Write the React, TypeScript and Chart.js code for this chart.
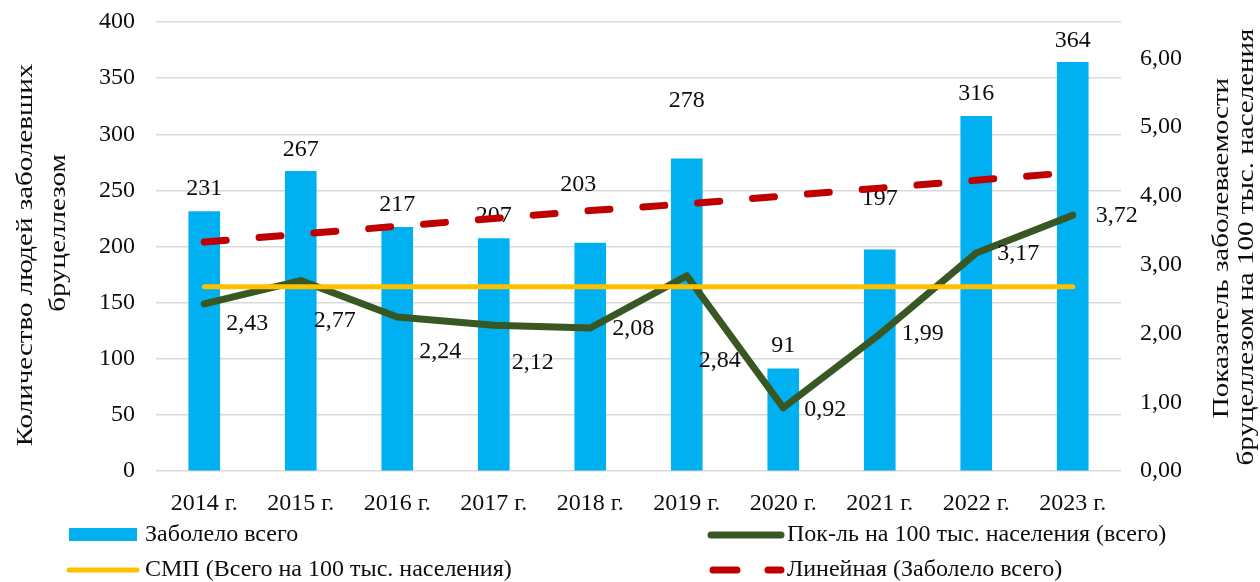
import { useEffect, useRef } from 'react';
import { Chart, registerables } from 'chart.js';

Chart.register(...registerables);

// ---- data ----
const categories = ['2014 г.', '2015 г.', '2016 г.', '2017 г.', '2018 г.', '2019 г.', '2020 г.', '2021 г.', '2022 г.', '2023 г.'];
const casesTotal = [231, 267, 217, 207, 203, 278, 91, 197, 316, 364];
const ratePer100k = [2.43, 2.77, 2.24, 2.12, 2.08, 2.84, 0.92, 1.99, 3.17, 3.72];
const smpLevel = [2.68, 2.68, 2.68, 2.68, 2.68, 2.68, 2.68, 2.68, 2.68, 2.68];
const trendCases = [204, 211, 218, 225, 232, 238, 245, 252, 259, 266];
const leftTicks = [0, 50, 100, 150, 200, 250, 300, 350, 400];
const rightTicks = [0, 1, 2, 3, 4, 5, 6];

const seriesNames = [
  'Заболело всего',
  'Пок-ль на 100 тыс. населения (всего)',
  'СМП (Всего на 100 тыс. населения)',
  'Линейная (Заболело всего)',
];
const leftTitle = ['Количество людей заболевших', 'бруцеллезом'];
const rightTitle = ['Показатель заболеваемости', 'бруцеллезом на 100 тыс. населения'];

// ---- layout tweaks for label placement (pixels) ----
const barLabelShift = [[0, -23], [0, -22], [0, -23], [0, -23], [-12, -58], [0, -58], [0, -23], [0, -51], [0, -23], [0, -22]];
const rateLabelShift = [[43, 20], [34, 40], [43, 35], [39, 37], [43, 1], [33, 85], [42, 2], [43, 0], [42, 1], [44, 0]];

const FONT = "'Liberation Serif', 'Times New Roman', serif";
const FS = 24;
const TITLE_FS = 29;
const TEXT = '#0d0d0d';
const BLUE = '#00B0F0';
const GREEN = '#385723';
const YELLOW = '#FFC000';
const RED = '#C00000';

const fmt = (v: number) => v.toFixed(2).replace('.', ',');

const overlay = {
  id: 'overlay',
  afterDatasetDraw(chart: any, args: any) {
    if (args.index !== 0) return;
    const ctx = chart.ctx;
    const meta = chart.getDatasetMeta(0);
    ctx.save();
    ctx.font = `${FS}px ${FONT}`;
    ctx.fillStyle = TEXT;
    ctx.textAlign = 'center';
    ctx.textBaseline = 'middle';
    meta.data.forEach((el: any, i: number) => {
      const [dx, dy] = barLabelShift[i];
      ctx.fillText(String(casesTotal[i]), el.x + dx, el.y + dy);
    });
    ctx.restore();
  },
  afterDatasetsDraw(chart: any) {
    const ctx = chart.ctx;
    const meta = chart.getDatasetMeta(1);
    ctx.save();
    ctx.font = `${FS}px ${FONT}`;
    ctx.fillStyle = TEXT;
    ctx.textAlign = 'center';
    ctx.textBaseline = 'middle';
    meta.data.forEach((el: any, i: number) => {
      const [dx, dy] = rateLabelShift[i];
      ctx.fillText(fmt(ratePer100k[i]), el.x + dx, el.y + dy);
    });
    ctx.restore();
  },
  afterDraw(chart: any) {
    const ctx = chart.ctx;
    ctx.save();
    ctx.fillStyle = TEXT;
    ctx.textBaseline = 'middle';
    ctx.textAlign = 'center';
    // axis titles
    ctx.font = `${TITLE_FS}px ${FONT}`;
    const drawRot = (text: string, x: number, y: number) => {
      ctx.save();
      ctx.translate(x, y);
      ctx.rotate(-Math.PI / 2);
      ctx.scale(1, 0.82);
      ctx.fillText(text, 0, 0);
      ctx.restore();
    };
    drawRot(leftTitle[0], 26, 255);
    drawRot(leftTitle[1], 59, 233);
    drawRot(rightTitle[0], 1222, 248);
    drawRot(rightTitle[1], 1247, 247);

    // legend
    ctx.font = `${FS}px ${FONT}`;
    ctx.textAlign = 'left';
    ctx.fillStyle = BLUE;
    ctx.fillRect(69, 528, 68, 13);
    ctx.fillStyle = TEXT;
    ctx.fillText(seriesNames[0], 145, 535);
    ctx.lineCap = 'round';
    ctx.strokeStyle = GREEN;
    ctx.lineWidth = 7;
    ctx.beginPath();
    ctx.moveTo(711, 535);
    ctx.lineTo(781, 535);
    ctx.stroke();
    ctx.fillText(seriesNames[1], 787, 535);
    ctx.strokeStyle = YELLOW;
    ctx.lineWidth = 5;
    ctx.beginPath();
    ctx.moveTo(69, 570);
    ctx.lineTo(137, 570);
    ctx.stroke();
    ctx.fillText(seriesNames[2], 145, 570);
    ctx.strokeStyle = RED;
    ctx.lineWidth = 7;
    ctx.beginPath();
    ctx.moveTo(713, 570);
    ctx.lineTo(737, 570);
    ctx.moveTo(768, 570);
    ctx.lineTo(781, 570);
    ctx.stroke();
    ctx.fillText(seriesNames[3], 787, 570);
    ctx.restore();
  },
};

export default function App() {
  const ref = useRef<HTMLCanvasElement | null>(null);
  useEffect(() => {
    document.body.style.margin = '0';
    const canvas = ref.current;
    if (!canvas) return;
    const tickFont = { family: FONT, size: FS };
    const chart = new Chart(canvas, {
      type: 'bar',
      data: {
        labels: categories,
        datasets: [
          {
            type: 'bar',
            label: seriesNames[0],
            data: casesTotal,
            backgroundColor: BLUE,
            borderWidth: 0,
            barThickness: 31,
            yAxisID: 'y',
            order: 4,
          },
          {
            type: 'line',
            label: seriesNames[1],
            data: ratePer100k,
            borderColor: GREEN,
            borderWidth: 7,
            pointRadius: 0,
            tension: 0,
            borderJoinStyle: 'round',
            borderCapStyle: 'round',
            yAxisID: 'y1',
            order: 3,
          },
          {
            type: 'line',
            label: seriesNames[2],
            data: smpLevel,
            borderColor: YELLOW,
            borderWidth: 5,
            pointRadius: 0,
            tension: 0,
            borderCapStyle: 'round',
            yAxisID: 'y1',
            order: 2,
          },
          {
            type: 'line',
            label: seriesNames[3],
            data: trendCases,
            borderColor: RED,
            borderWidth: 7,
            borderDash: [22, 33],
            borderCapStyle: 'round',
            pointRadius: 0,
            tension: 0,
            yAxisID: 'y',
            order: 1,
          },
        ],
      },
      options: {
        animation: false,
        responsive: false,
        devicePixelRatio: 1,
        layout: { padding: { top: 22, left: 0, right: 0, bottom: 0 } },
        plugins: { legend: { display: false }, tooltip: { enabled: false } },
        scales: {
          x: {
            type: 'category',
            offset: true,
            grid: { display: false, drawTicks: false },
            border: { display: false },
            ticks: { font: tickFont, color: TEXT, padding: 18, maxRotation: 0, autoSkip: false },
            afterFit: (s: any) => { s.height = 111; s.paddingLeft = 0; s.paddingRight = 0; },
          },
          y: {
            position: 'left',
            min: 0,
            max: 400,
            grid: { color: '#D9D9D9', lineWidth: 1.5, drawTicks: false },
            border: { display: false },
            ticks: { stepSize: 50, font: tickFont, color: TEXT, padding: 21 },
            afterBuildTicks: (s: any) => { s.ticks = leftTicks.map((v) => ({ value: v })); },
            afterFit: (s: any) => { s.width = 156; s.paddingTop = 0; s.paddingBottom = 0; },
          },
          y1: {
            position: 'right',
            min: 0,
            max: 6.53,
            grid: { display: false, drawTicks: false },
            border: { display: false },
            ticks: { font: tickFont, color: TEXT, padding: 19, callback: (v: any) => fmt(Number(v)) },
            afterBuildTicks: (s: any) => { s.ticks = rightTicks.map((v) => ({ value: v })); },
            afterFit: (s: any) => { s.width = 139; s.paddingTop = 0; s.paddingBottom = 0; },
          },
        },
      } as any,
      plugins: [overlay],
    });
    return () => chart.destroy();
  }, []);
  return <canvas ref={ref} width={1260} height={582} style={{ display: 'block' }} />;
}
